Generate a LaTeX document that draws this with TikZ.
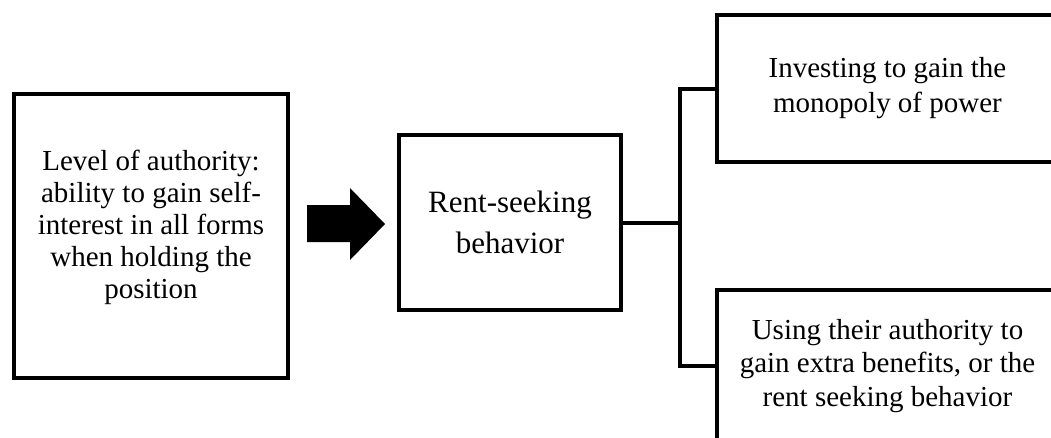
\documentclass[tikz,border=0pt]{standalone}
\usepackage{fontspec}
\setmainfont{Liberation Serif}
\begin{document}
\begin{tikzpicture}[x=1pt,y=-1pt,
  box/.style={draw=black,line width=4pt,rectangle,inner sep=0pt},
  txt/.style={align=center,font=\fontsize{29}{32}\selectfont},
  link/.style={draw=black,line width=4pt}]
\useasboundingbox (0,0) rectangle (1051,437);
\clip (0,0) rectangle (1051,437);

% left box and its text
\node[box,minimum width=274pt,minimum height=284pt] (auth) at (151,236) {};
\node[txt] (authtext) at (151,227) {Level of authority:\\ability to gain self-\\interest in all forms\\when holding the\\position};

% block arrow
\fill[black] (307,205) -- (350,205) -- (350,188) -- (385,224) -- (350,260) -- (350,242) -- (307,242) -- cycle;

% middle box
\node[box,minimum width=222pt,minimum height=175pt,align=center,
      font=\fontsize{31}{41}\selectfont] (rent) at (510,222.5) {Rent-seeking\\behavior};

% right boxes (running past the edge of the page)
\node[box,minimum width=341pt,minimum height=147pt,align=center,
      font=\fontsize{29}{35}\selectfont] (invest) at (887.5,88.5) {Investing to gain the\\monopoly of power};
\node[box,minimum width=341pt,minimum height=152pt,align=center,
      font=\fontsize{29}{33.5}\selectfont] (using) at (887.5,366) {Using their authority to\\gain extra benefits, or the\\rent seeking behavior};

% bracket connector
\coordinate (bus) at (680,222.5);
\draw[link] (rent.east) -- (bus);
\draw[link] (invest.west) -- (invest.west -| bus) -- (using.west -| bus) -- (using.west);
\end{tikzpicture}
\end{document}
